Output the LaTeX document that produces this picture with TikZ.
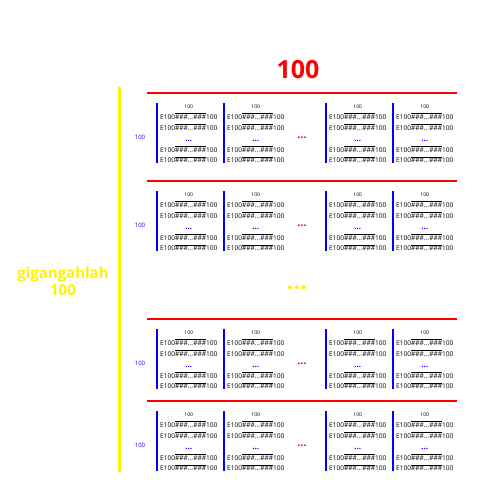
\documentclass[tikz,border=0pt]{standalone}
\usepackage{fontspec}
\setmainfont{Open Sans}
\usetikzlibrary{positioning}
\newcommand{\hashes}{$\overline{\mbox{\#\#\#...\#\#\#}}$}
\newcommand{\cellrow}{E100\hashes100}
\begin{document}
\begin{tikzpicture}[x=1pt, y=-1pt,
	cell/.style={anchor=north west, inner xsep=3pt, inner ysep=0pt, align=center, font=\fontsize{6.6}{10.8}\selectfont},
	blueline/.style={blue, line width=1.6pt},
	redline/.style={red, line width=1.6pt},
	bluelabel/.style={blue, font=\fontsize{6}{7}\selectfont},
	reddots/.style={red, font=\bfseries\fontsize{11}{12}\selectfont}]
	\useasboundingbox (0,0) rectangle (480,480);
	\node[red, font=\bfseries\fontsize{25}{27}\selectfont] (title) at (298,70) {100};
	\draw[yellow, line width=3pt] (119,87) -- (119,472);
	\node[yellow, align=center, font=\bfseries\fontsize{15}{17}\selectfont] (side) at (63,281) {gigangahlah\\100};
	\foreach \b/\ry in {1/93, 2/181, 3/319, 4/401} {
		\draw[redline] (147,\ry) -- (457,\ry);
		\foreach \c/\cx in {1/157, 2/224, 3/326, 4/393} {
			\node[cell] (b\b c\c) at (\cx,\ry+12) {{\fontsize{5}{5}\selectfont 100}\\ \cellrow\\ \cellrow\\ {\color{blue}\bfseries\fontsize{8}{8}\selectfont ...}\\ \cellrow\\ \cellrow};
			\draw[blueline] ([yshift=2pt]b\b c\c.north west) -- (b\b c\c.south west);
		}
		\node[bluelabel] (lab\b) at (140,\ry+44) {100};
		\node[reddots] (dots\b) at (302,\ry+45) {...};
	}
	\node[yellow, font=\bfseries\fontsize{24}{26}\selectfont] (vdots) at (297,288) {...};
\end{tikzpicture}
\end{document}
